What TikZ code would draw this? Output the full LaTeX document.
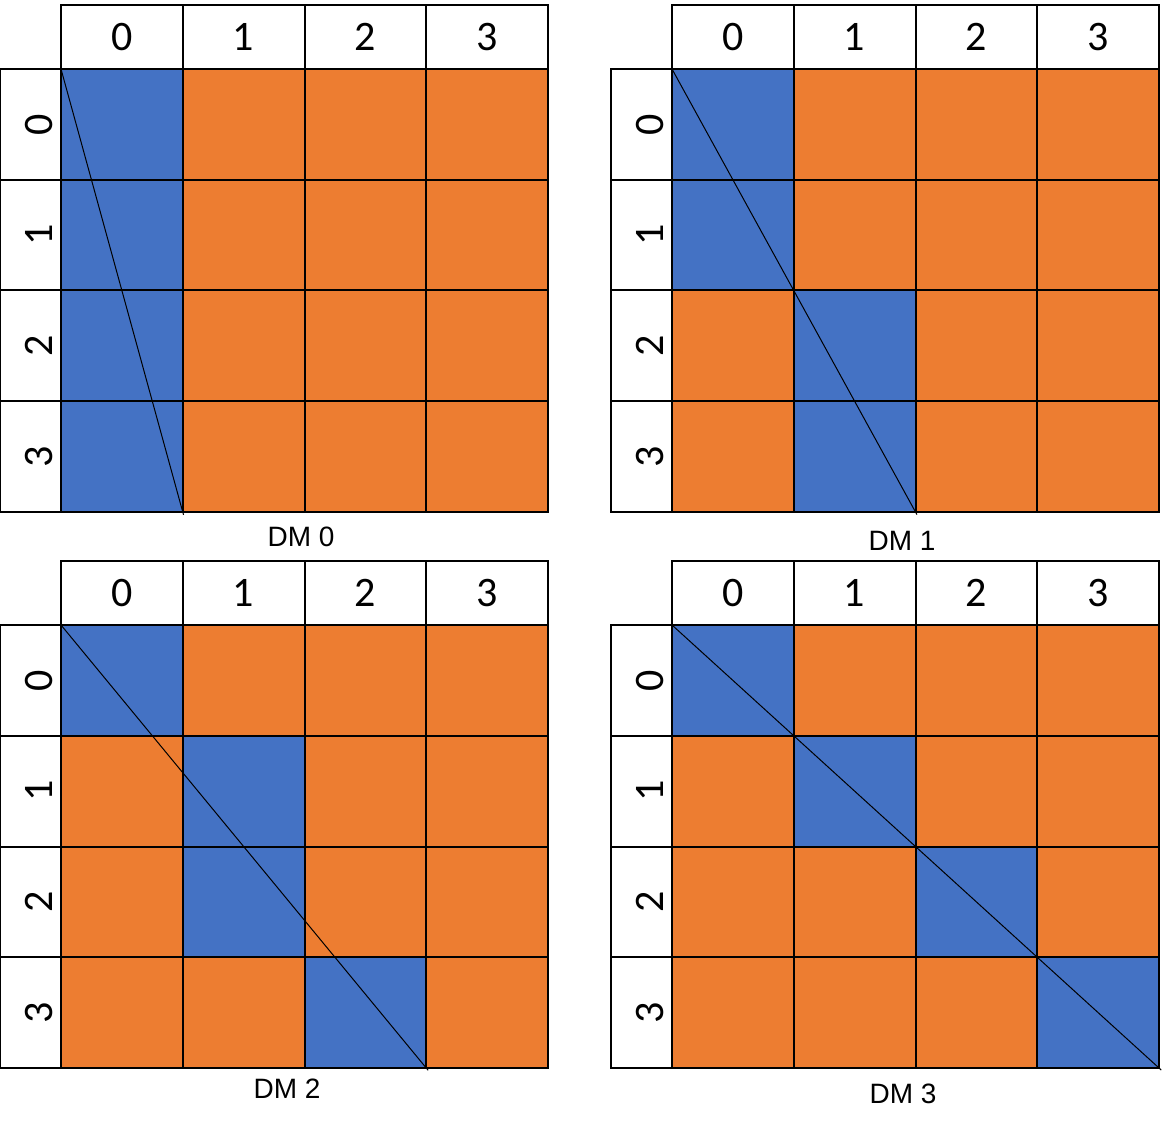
\documentclass[tikz,border=0pt]{standalone}
\usepackage{fontspec}
\setmainfont{Liberation Sans}
\newfontfamily\digitfont{Carlito}
\usepackage{tikz}
\usetikzlibrary{positioning}
\definecolor{dmblue}{HTML}{4472C4}
\definecolor{dmorange}{HTML}{ED7D31}
\tikzset{
  dmcell/.style={draw=black,line width=1pt,inner sep=0pt,outer sep=0pt,
                 minimum width=60.875pt,minimum height=55.375pt},
  dmhead/.style={dmcell,fill=white,minimum height=32pt,
                 font=\digitfont\fontsize{21}{23}\selectfont},
  dmrow/.style={dmcell,fill=white,rotate=90,
                minimum width=55.375pt,minimum height=30.5pt,
                text height=22pt,text depth=0pt,
                font=\digitfont\fontsize{21}{23}\selectfont},
  dmdiag/.style={line width=0.5pt,shorten >=-1.5pt},
  dmlabel/.style={font=\fontsize{14}{16}\selectfont,inner sep=0pt},
}
\begin{document}
\begin{tikzpicture}[x=0.5pt,y=-0.5pt]
  \useasboundingbox (0,0) rectangle (1162,1128);
  % one panel per DM: offset, blue column of each row, label position
  \foreach \k/\ox/\oy/\ca/\cb/\cc/\cd/\lx/\ly in
      {0/0/0/0/0/0/0/301/537, 1/611/0/0/0/1/1/902/541,
       2/0/556/0/1/1/2/287/1089, 3/611/556/0/1/2/3/903/1094}{
    \foreach \c in {0,...,3}
      \node[dmhead] (h\k-\c) at (\ox+61+121.75*\c+60.875,\oy+37) {\c};
    \foreach \r/\b in {0/\ca,1/\cb,2/\cc,3/\cd}{
      \node[dmrow] (r\k-\r) at (\ox+30.5,\oy+69+110.75*\r+55.375) {\r};
      \foreach \c in {0,...,3}{
        \ifnum\c=\b \def\cellfill{dmblue}\else\def\cellfill{dmorange}\fi
        \node[dmcell,fill=\cellfill] (g\k-\r-\c)
          at (\ox+61+121.75*\c+60.875,\oy+69+110.75*\r+55.375) {};
      }
    }
    \draw[dmdiag] (g\k-0-0.north west) -- (g\k-3-\cd.south east);
    \node[dmlabel] (lab\k) at (\lx,\ly) {DM \k};
  }
\end{tikzpicture}
\end{document}
